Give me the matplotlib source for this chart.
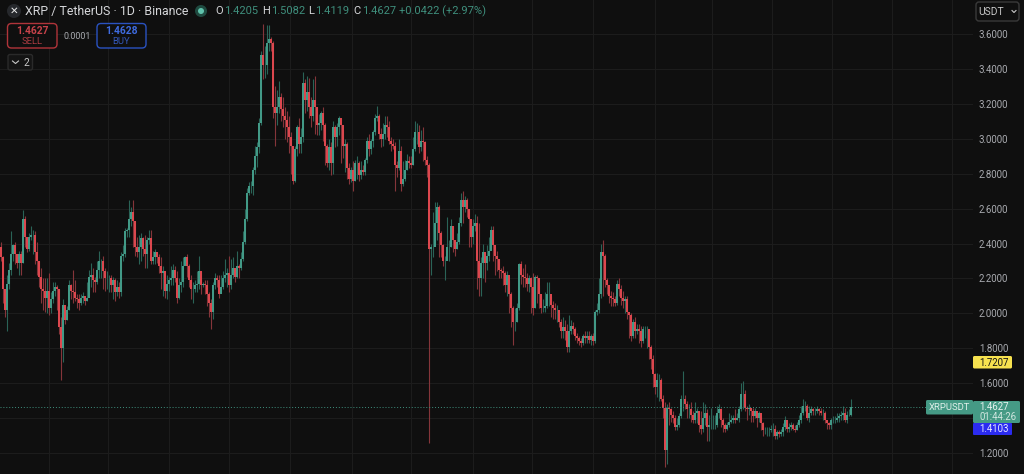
import numpy as np
import matplotlib
matplotlib.use("Agg")
import matplotlib.pyplot as plt
from matplotlib.patches import FancyBboxPatch, Circle

plt.rcParams['font.family'] = ['Roboto', 'DejaVu Sans']

first_open = 2.38

closes = [
    2.32, 2.14, 2.02, 2.17, 2.25, 2.34, 2.39, 2.34, 2.29, 2.34,
    2.29, 2.54, 2.44, 2.37, 2.44, 2.45, 2.45, 2.35, 2.30, 2.21,
    2.14, 2.13, 2.09, 2.13, 2.03, 2.08, 2.13, 2.15, 2.14, 1.92,
    1.80, 2.05, 1.96, 2.02, 2.16, 2.13, 2.12, 2.09, 2.08, 2.06,
    2.09, 2.10, 2.07, 2.09, 2.21, 2.22, 2.19, 2.18, 2.25, 2.30,
    2.30, 2.24, 2.20, 2.20, 2.20, 2.16, 2.19, 2.12, 2.15, 2.12,
    2.33, 2.34, 2.47, 2.48, 2.54, 2.58, 2.53, 2.38, 2.35, 2.38,
    2.43, 2.37, 2.34, 2.42, 2.43, 2.30, 2.32, 2.35, 2.32, 2.27,
    2.23, 2.24, 2.13, 2.17, 2.19, 2.20, 2.25, 2.20, 2.09, 2.16,
    2.18, 2.27, 2.32, 2.27, 2.19, 2.14, 2.14, 2.16, 2.17, 2.24,
    2.16, 2.17, 2.16, 2.11, 2.06, 2.01, 2.16, 2.20, 2.19, 2.11,
    2.15, 2.20, 2.22, 2.23, 2.16, 2.22, 2.26, 2.21, 2.27, 2.26,
    2.31, 2.41, 2.54, 2.69, 2.73, 2.73, 2.82, 2.90, 2.95, 3.09,
    3.48, 3.42, 3.42, 3.55, 3.57, 3.55, 3.18, 3.15, 3.18, 3.24,
    3.17, 3.13, 3.11, 3.07, 3.01, 2.96, 2.76, 2.94, 3.07, 2.97,
    3.01, 3.32, 3.22, 3.27, 3.18, 3.13, 3.22, 3.18, 3.08, 3.09,
    3.15, 3.08, 2.96, 2.86, 2.95, 2.86, 3.07, 3.01, 3.07, 3.12,
    3.08, 2.96, 2.97, 2.83, 2.77, 2.82, 2.76, 2.86, 2.86, 2.79,
    2.82, 2.81, 2.88, 2.99, 2.94, 2.99, 3.04, 3.12, 3.13, 3.03,
    3.00, 3.03, 3.08, 3.07, 2.99, 2.97, 2.96, 2.85, 2.83, 2.93,
    2.74, 2.77, 2.82, 2.87, 2.86, 2.85, 2.94, 3.04, 3.04, 2.95,
    2.99, 2.98, 2.88, 2.85, 2.37, 2.38, 2.38, 2.52, 2.61, 2.46,
    2.39, 2.30, 2.30, 2.38, 2.38, 2.50, 2.42, 2.37, 2.41, 2.52,
    2.65, 2.61, 2.65, 2.60, 2.54, 2.44, 2.50, 2.52, 2.30, 2.20,
    2.29, 2.35, 2.29, 2.33, 2.36, 2.48, 2.39, 2.33, 2.31, 2.25,
    2.24, 2.23, 2.16, 2.22, 2.11, 2.03, 1.95, 1.95, 2.03, 2.28,
    2.22, 2.21, 2.20, 2.17, 2.20, 2.15, 2.03, 2.21, 2.20, 2.11,
    2.03, 2.03, 2.04, 2.11, 2.11, 2.05, 2.03, 2.02, 2.02, 1.95,
    1.90, 1.92, 1.90, 1.81, 1.90, 1.93, 1.91, 1.87, 1.86, 1.84,
    1.83, 1.87, 1.86, 1.87, 1.85, 1.87, 1.84, 2.01, 2.02, 2.11,
    2.35, 2.33, 2.19, 2.16, 2.10, 2.09, 2.08, 2.06, 2.17, 2.14,
    2.09, 2.07, 2.08, 2.01, 1.99, 1.87, 1.95, 1.90, 1.91, 1.90,
    1.84, 1.91, 1.91, 1.91, 1.81, 1.74, 1.65, 1.58, 1.62, 1.62,
    1.51, 1.46, 1.22, 1.46, 1.45, 1.42, 1.40, 1.35, 1.36, 1.41,
    1.51, 1.51, 1.48, 1.45, 1.45, 1.42, 1.39, 1.43, 1.44, 1.36,
    1.34, 1.40, 1.43, 1.35, 1.36, 1.36, 1.36, 1.36, 1.43, 1.45,
    1.39, 1.36, 1.34, 1.36, 1.38, 1.39, 1.40, 1.39, 1.40, 1.45,
    1.54, 1.54, 1.46, 1.45, 1.46, 1.44, 1.41, 1.44, 1.40, 1.43,
    1.37, 1.33, 1.33, 1.33, 1.33, 1.34, 1.34, 1.30, 1.32, 1.31,
    1.32, 1.35, 1.39, 1.34, 1.35, 1.36, 1.34, 1.33, 1.36, 1.39,
    1.43, 1.47, 1.47, 1.40, 1.43, 1.45, 1.44, 1.44, 1.45, 1.44,
    1.43, 1.43, 1.39, 1.37, 1.36, 1.39, 1.39, 1.39, 1.40, 1.41,
    1.42, 1.43, 1.39, 1.42, 1.4205, 1.4627,
]

highs = [
    2.41, 2.33, 2.14, 2.22, 2.29, 2.47, 2.40, 2.41, 2.33, 2.36,
    2.36, 2.59, 2.56, 2.44, 2.46, 2.50, 2.48, 2.47, 2.41, 2.30,
    2.26, 2.20, 2.20, 2.20, 2.23, 2.12, 2.18, 2.18, 2.16, 2.14,
    1.98, 2.08, 2.02, 2.04, 2.19, 2.17, 2.25, 2.19, 2.11, 2.11,
    2.11, 2.12, 2.09, 2.18, 2.25, 2.29, 2.26, 2.21, 2.30, 2.36,
    2.31, 2.33, 2.26, 2.24, 2.22, 2.22, 2.21, 2.20, 2.19, 2.18,
    2.35, 2.39, 2.49, 2.49, 2.65, 2.61, 2.65, 2.53, 2.44, 2.45,
    2.46, 2.44, 2.45, 2.44, 2.48, 2.48, 2.36, 2.37, 2.35, 2.34,
    2.32, 2.27, 2.22, 2.22, 2.21, 2.27, 2.28, 2.27, 2.24, 2.20,
    2.30, 2.32, 2.33, 2.34, 2.28, 2.22, 2.18, 2.19, 2.24, 2.33,
    2.24, 2.18, 2.19, 2.19, 2.12, 2.08, 2.18, 2.23, 2.22, 2.22,
    2.22, 2.24, 2.31, 2.26, 2.33, 2.31, 2.32, 2.25, 2.36, 2.28,
    2.35, 2.47, 2.60, 2.72, 2.75, 2.76, 2.84, 2.96, 2.98, 3.12,
    3.50, 3.66, 3.53, 3.65, 3.65, 3.58, 3.56, 3.30, 3.28, 3.33,
    3.26, 3.24, 3.18, 3.16, 3.13, 3.04, 2.96, 2.96, 3.08, 3.12,
    3.06, 3.38, 3.34, 3.36, 3.35, 3.24, 3.34, 3.36, 3.18, 3.14,
    3.16, 3.18, 3.09, 2.97, 3.00, 2.98, 3.10, 3.08, 3.09, 3.13,
    3.12, 3.05, 3.00, 2.98, 2.86, 2.84, 2.87, 2.88, 2.90, 2.87,
    2.87, 2.85, 2.89, 3.01, 3.03, 3.00, 3.05, 3.14, 3.19, 3.14,
    3.06, 3.09, 3.13, 3.13, 3.10, 3.01, 3.00, 2.98, 2.87, 3.00,
    2.96, 2.87, 2.88, 2.91, 2.90, 2.90, 3.01, 3.10, 3.09, 3.08,
    3.05, 3.07, 2.99, 2.90, 2.86, 2.40, 2.58, 2.64, 2.64, 2.62,
    2.47, 2.40, 2.33, 2.55, 2.42, 2.54, 2.50, 2.42, 2.46, 2.55,
    2.69, 2.70, 2.67, 2.66, 2.60, 2.54, 2.54, 2.57, 2.56, 2.52,
    2.32, 2.40, 2.34, 2.39, 2.44, 2.50, 2.50, 2.38, 2.36, 2.31,
    2.26, 2.27, 2.24, 2.24, 2.19, 2.12, 2.04, 2.03, 2.06, 2.29,
    2.30, 2.26, 2.28, 2.23, 2.22, 2.21, 2.23, 2.22, 2.22, 2.16,
    2.10, 2.08, 2.12, 2.18, 2.18, 2.10, 2.07, 2.06, 2.05, 2.00,
    1.97, 1.98, 1.96, 1.94, 1.99, 1.96, 1.95, 1.92, 1.89, 1.87,
    1.86, 1.88, 1.90, 1.90, 1.90, 1.88, 1.89, 2.02, 2.06, 2.20,
    2.40, 2.42, 2.34, 2.20, 2.13, 2.13, 2.12, 2.10, 2.19, 2.20,
    2.16, 2.13, 2.10, 2.10, 2.00, 2.00, 1.97, 1.98, 1.94, 1.94,
    1.93, 1.93, 1.93, 1.93, 1.91, 1.82, 1.76, 1.66, 1.66, 1.65,
    1.63, 1.53, 1.49, 1.48, 1.49, 1.46, 1.44, 1.42, 1.40, 1.43,
    1.53, 1.67, 1.53, 1.50, 1.48, 1.49, 1.44, 1.49, 1.46, 1.44,
    1.44, 1.49, 1.48, 1.45, 1.42, 1.46, 1.42, 1.42, 1.47, 1.48,
    1.46, 1.40, 1.37, 1.38, 1.43, 1.42, 1.42, 1.45, 1.43, 1.47,
    1.60, 1.61, 1.56, 1.47, 1.48, 1.46, 1.46, 1.46, 1.44, 1.44,
    1.41, 1.38, 1.35, 1.35, 1.35, 1.36, 1.37, 1.36, 1.33, 1.33,
    1.34, 1.37, 1.41, 1.39, 1.37, 1.38, 1.37, 1.36, 1.38, 1.42,
    1.47, 1.51, 1.50, 1.48, 1.47, 1.47, 1.46, 1.46, 1.47, 1.46,
    1.46, 1.45, 1.44, 1.39, 1.38, 1.40, 1.41, 1.41, 1.43, 1.43,
    1.44, 1.47, 1.46, 1.44, 1.45, 1.5082,
]

lows = [
    2.30, 2.06, 1.98, 1.90, 2.14, 2.22, 2.30, 2.28, 2.26, 2.22,
    2.22, 2.29, 2.38, 2.35, 2.36, 2.42, 2.34, 2.28, 2.22, 2.15,
    2.06, 2.02, 2.01, 2.00, 1.99, 2.00, 2.06, 2.10, 2.02, 1.88,
    1.62, 1.72, 1.94, 1.96, 2.02, 2.08, 2.06, 2.07, 2.03, 2.02,
    2.05, 2.06, 2.05, 2.07, 2.12, 2.15, 2.12, 2.12, 2.17, 2.20,
    2.20, 2.14, 2.13, 2.14, 2.12, 2.12, 2.08, 2.07, 2.10, 2.09,
    2.10, 2.30, 2.32, 2.44, 2.44, 2.50, 2.38, 2.33, 2.32, 2.28,
    2.30, 2.33, 2.26, 2.26, 2.40, 2.28, 2.28, 2.28, 2.29, 2.23,
    2.14, 2.10, 2.09, 2.08, 2.13, 2.16, 2.16, 2.18, 2.06, 2.08,
    2.12, 2.15, 2.28, 2.21, 2.15, 2.08, 2.06, 2.12, 2.12, 2.14,
    2.11, 2.15, 2.11, 2.04, 1.98, 1.91, 1.97, 2.14, 2.15, 2.09,
    2.13, 2.14, 2.18, 2.15, 2.12, 2.14, 2.20, 2.18, 2.20, 2.20,
    2.25, 2.30, 2.40, 2.53, 2.68, 2.69, 2.68, 2.80, 2.84, 2.92,
    3.08, 3.34, 3.35, 3.37, 3.50, 3.50, 3.12, 2.96, 3.08, 3.15,
    3.10, 3.07, 3.00, 2.98, 2.92, 2.80, 2.74, 2.75, 2.90, 2.92,
    2.92, 2.98, 3.15, 3.16, 3.12, 3.07, 3.10, 3.03, 3.02, 3.02,
    3.05, 2.99, 2.85, 2.84, 2.82, 2.79, 2.80, 2.95, 2.96, 3.02,
    2.86, 2.89, 2.81, 2.77, 2.74, 2.75, 2.70, 2.76, 2.77, 2.76,
    2.77, 2.79, 2.79, 2.86, 2.90, 2.91, 2.95, 3.02, 3.10, 3.00,
    2.95, 2.96, 3.00, 3.01, 2.97, 2.93, 2.94, 2.70, 2.78, 2.82,
    2.70, 2.73, 2.76, 2.82, 2.83, 2.83, 2.85, 2.93, 2.97, 2.92,
    2.93, 2.87, 2.85, 2.78, 1.26, 2.22, 2.32, 2.40, 2.42, 2.32,
    2.32, 2.27, 2.19, 2.32, 2.30, 2.38, 2.35, 2.33, 2.37, 2.40,
    2.50, 2.52, 2.58, 2.55, 2.38, 2.38, 2.40, 2.47, 2.14, 2.10,
    2.10, 2.20, 2.18, 2.25, 2.30, 2.38, 2.30, 2.22, 2.24, 2.20,
    2.20, 2.16, 2.12, 2.10, 2.00, 1.92, 1.82, 1.90, 1.95, 2.02,
    2.17, 2.15, 2.15, 2.13, 2.12, 2.00, 1.99, 2.03, 2.06, 2.03,
    2.00, 2.01, 2.01, 2.03, 2.04, 1.98, 1.97, 1.97, 1.95, 1.92,
    1.86, 1.86, 1.85, 1.78, 1.78, 1.88, 1.88, 1.85, 1.83, 1.82,
    1.81, 1.82, 1.83, 1.83, 1.83, 1.82, 1.82, 1.83, 1.99, 2.00,
    2.09, 2.10, 2.15, 2.11, 2.06, 2.04, 2.04, 2.04, 2.05, 2.10,
    2.05, 2.03, 2.00, 1.97, 1.86, 1.84, 1.86, 1.86, 1.88, 1.83,
    1.81, 1.83, 1.86, 1.80, 1.74, 1.68, 1.58, 1.54, 1.52, 1.50,
    1.50, 1.40, 1.12, 1.14, 1.36, 1.38, 1.37, 1.33, 1.33, 1.35,
    1.40, 1.44, 1.45, 1.40, 1.40, 1.38, 1.37, 1.37, 1.37, 1.32,
    1.31, 1.32, 1.36, 1.27, 1.27, 1.34, 1.34, 1.34, 1.35, 1.40,
    1.35, 1.32, 1.32, 1.33, 1.35, 1.37, 1.37, 1.37, 1.39, 1.38,
    1.44, 1.45, 1.44, 1.39, 1.42, 1.38, 1.38, 1.40, 1.35, 1.38,
    1.33, 1.30, 1.31, 1.30, 1.30, 1.32, 1.30, 1.28, 1.28, 1.29,
    1.30, 1.30, 1.33, 1.32, 1.32, 1.33, 1.33, 1.32, 1.33, 1.35,
    1.37, 1.42, 1.44, 1.39, 1.38, 1.42, 1.42, 1.42, 1.43, 1.42,
    1.42, 1.39, 1.37, 1.34, 1.34, 1.34, 1.37, 1.37, 1.38, 1.38,
    1.39, 1.39, 1.38, 1.37, 1.41, 1.4119,
]

price_ticks = [1.2, 1.4, 1.6, 1.8, 2.0, 2.2, 2.4, 2.6, 2.8, 3.0, 3.2, 3.4, 3.6]
month_starts = [24, 53.5, 84, 114, 144.5, 175.5, 205, 236, 265.5, 296, 327, 355.5, 385.5, 415.5, 445.5, 475.5]
last_price = 1.4627
bid_low = 1.4103
level_high = 1.7207

BG = '#0f0f0f'
GRID = '#1c1c1c'
GREEN = '#429a87'
RED = '#dc474e'
GREEN_WICK = '#2a6357'
RED_WICK = '#85353a'
TEXT = '#a9abb0'

W, H = 1024, 474
fig = plt.figure(figsize=(W / 100, H / 100), dpi=100, facecolor=BG)
ax = fig.add_axes([0, 0, 973 / W, 1], facecolor=BG)

c = np.array(closes)
o = np.concatenate([[first_open], c[:-1]])
hi = np.array(highs)
lo = np.array(lows)
x = np.arange(len(c))
up = c >= o

ax.vlines(x[up], lo[up], hi[up], color=GREEN_WICK, lw=0.8, zorder=2)
ax.vlines(x[~up], lo[~up], hi[~up], color=RED_WICK, lw=0.8, zorder=2)
ax.bar(x[up], (c - o)[up], bottom=o[up], width=1.0, color=GREEN, lw=0, zorder=3)
ax.bar(x[~up], (c - o)[~up], bottom=o[~up], width=1.0, color=RED, lw=0, zorder=3)

ax.set_xlim(-0.5, 486)
ax.set_ylim(3.6 - 440 / 174.6, 3.6 + 34 / 174.6)
ax.set_xticks(month_starts)
ax.set_xticklabels([])
ax.set_yticks(price_ticks)
ax.set_yticklabels(['' if t == 1.4 else f'{t:.4f}' for t in price_ticks])
ax.yaxis.tick_right()
ax.tick_params(length=0, colors=TEXT, labelsize=6.9, pad=4.3)
ax.grid(True, color=GRID, lw=0.8, zorder=0)
ax.set_axisbelow(True)
for s in ax.spines.values():
    s.set_visible(False)

ax.plot([-0.5, 463], [last_price, last_price], color='#3f8f7d', lw=0.7, ls=(0, (1, 2)), zorder=4)

# overlay in pixel coordinates for the header and the price badges
ov = fig.add_axes([0, 0, 1, 1], facecolor='none')
ov.set_xlim(0, W)
ov.set_ylim(H, 0)
ov.axis('off')


def box(x0, y0, x1, y1, face, edge='none', r=2, lw=1.0):
    ov.add_patch(FancyBboxPatch((x0 + r, y0 + r), x1 - x0 - 2 * r, y1 - y0 - 2 * r,
                                boxstyle=f'round,pad={r},rounding_size={r}',
                                fc=face, ec=edge, lw=lw, zorder=5))


def label(px, py, s, color=TEXT, size=6.9, ha='left', weight='normal'):
    ov.text(px, py, s, color=color, fontsize=size, ha=ha, va='center', weight=weight, zorder=6)


# header
ov.add_patch(Circle((14, 11), 7, fc='#26282c', ec='none', zorder=5))
label(14, 11, '✕', color='#e8e8e8', size=7.5, ha='center')
label(25, 11, 'XRP / TetherUS · 1D · Binance', color='#d6d7da', size=8.9)
ov.add_patch(Circle((201, 11), 6, fc='#1f4a40', ec='none', zorder=5))
ov.add_patch(Circle((201, 11), 3, fc='#5fc3ac', ec='none', zorder=6))
for px, letter, vx, val in [(215, 'O', 224, '1.4205'), (262, 'H', 271, '1.5082'),
                            (308, 'L', 315, '1.4119'), (353, 'C', 362, '1.4627')]:
    label(px, 11, letter, color='#d6d7da', size=8.0)
    label(vx, 11, val, color='#3f8f7d', size=8.0)
label(399, 11, '+0.0422 (+2.97%)', color='#3f8f7d', size=8.0)

# sell / buy buttons
box(7.5, 23.5, 57, 48, BG, edge='#b0343a', r=4)
label(32, 30.5, '1.4627', color='#c8424a', size=7.4, ha='center', weight='bold')
label(32, 41, 'SELL', color='#a83a40', size=6.8, ha='center')
label(77, 36, '0.0001', color=TEXT, size=6.4, ha='center')
box(97, 23.5, 146, 48, BG, edge='#2a52c0', r=4)
label(121.5, 30.5, '1.4628', color='#3e6be0', size=7.4, ha='center', weight='bold')
label(121.5, 41, 'BUY', color='#3357b8', size=6.8, ha='center')
box(8, 54.5, 32.5, 70, '#141414', edge='#2a2a2a', r=2)
ov.plot([12.5, 15.5, 18.5], [61, 63.5, 61], color='#c8c8c8', lw=0.8, zorder=6)
label(26, 62.5, '2', color='#c8c8c8', size=7.4, ha='center')

# currency selector
box(976, 2, 1019, 21, BG, edge='#3a3a3a', r=3)
label(978.5, 11.5, 'USDT', color='#c8c8c8', size=7.4)
ov.plot([1012, 1014, 1016], [10.5, 12.5, 10.5], color='#c8c8c8', lw=0.8, zorder=6)

# price badges
box(926, 400, 973, 414.5, '#459a85', r=1.5)
label(949.5, 407.5, 'XRPUSDT', color='#dff0ea', size=6.8, ha='center')
box(973, 401, 1020, 423, '#459a85', r=1.5)
label(979, 407.5, f'{last_price:.4f}', color='#e6f3ef', size=6.9)
label(979, 417, '01:44:26', color='#d0e6df', size=6.9)
box(973, 423, 1012, 435, '#2b2bf0', r=1)
label(979, 429, f'{bid_low:.4f}', color='#e8e8ff', size=6.9)
box(973, 356, 1012, 368.5, '#f7e24f', r=1.5)
label(979, 362.5, f'{level_high:.4f}', color='#141414', size=6.9)

fig.savefig('out.png', dpi=100, facecolor=BG)
